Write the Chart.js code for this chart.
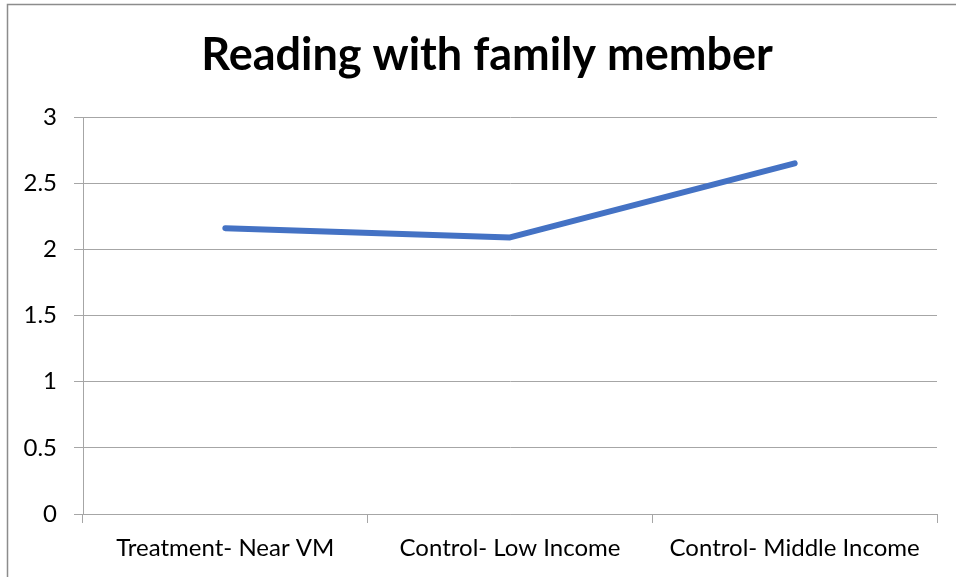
<!DOCTYPE html>
<html>
<head>
<meta charset="utf-8">
<script src="https://cdn.jsdelivr.net/npm/chart.js@4"></script>
<style>
html,body{margin:0;padding:0;background:#fff;overflow:hidden;}
#wrap{position:absolute;left:0;top:0;width:956px;height:577px;}
</style>
</head>
<body>
<div id="wrap"><canvas id="c" width="956" height="577"></canvas></div>
<script>
const categories = ["Treatment- Near VM", "Control- Low Income", "Control- Middle Income"];
const seriesValues = [2.16, 2.09, 2.65];
const yTicks = [0, 0.5, 1, 1.5, 2, 2.5, 3];
const chartTitle = "Reading with family member";

const FONT = "Lato, Carlito, Calibri, sans-serif";

const framePlugin = {
  id: 'frame',
  afterDraw(chart) {
    const ctx = chart.ctx;
    ctx.save();
    ctx.strokeStyle = '#8c8c8c';
    ctx.lineWidth = 1.5;
    ctx.beginPath();
    ctx.moveTo(7.5, 577);
    ctx.lineTo(7.5, 4.5);
    ctx.lineTo(956, 4.5);
    ctx.stroke();
    // chart title, centred on the full chart frame
    ctx.fillStyle = '#000';
    ctx.font = 'bold 45px ' + FONT;
    ctx.textAlign = 'center';
    ctx.textBaseline = 'alphabetic';
    ctx.fillText(chartTitle, 487, 70);
    ctx.restore();
  }
};

new Chart(document.getElementById('c'), {
  type: 'line',
  data: {
    labels: categories,
    datasets: [{
      label: 'Series1',
      data: seriesValues,
      borderColor: '#4472C4',
      borderWidth: 6,
      borderCapStyle: 'round',
      borderJoinStyle: 'round',
      pointRadius: 0,
      tension: 0,
      fill: false
    }]
  },
  options: {
    responsive: false,
    animation: false,
    devicePixelRatio: 1,
    layout: { padding: { left: 8, right: 19, top: 117, bottom: 0 } },
    plugins: {
      legend: { display: false },
      tooltip: { enabled: false },
      title: { display: false }
    },
    scales: {
      x: {
        offset: true,
        grid: { offset: true, drawOnChartArea: false, drawTicks: true, tickLength: 9, color: '#a6a6a6', lineWidth: 1 },
        border: { display: true, color: '#a6a6a6', width: 1 },
        ticks: { color: '#000', font: { family: FONT, size: 24 }, padding: 11, maxRotation: 0, autoSkip: false },
        afterFit(scale) { scale.height = 63; }
      },
      y: {
        min: 0, max: 3,
        afterBuildTicks(scale) { scale.ticks = yTicks.map(v => ({ value: v })); },
        grid: { drawTicks: true, tickLength: 9, color: '#a6a6a6', lineWidth: 1 },
        border: { display: true, color: '#a6a6a6', width: 1 },
        ticks: { color: '#000', font: { family: FONT, size: 24 }, padding: 17,
          callback: v => String(v) },
        afterFit(scale) { scale.width = 75; }
      }
    }
  },
  plugins: [framePlugin]
});
</script>
</body>
</html>
